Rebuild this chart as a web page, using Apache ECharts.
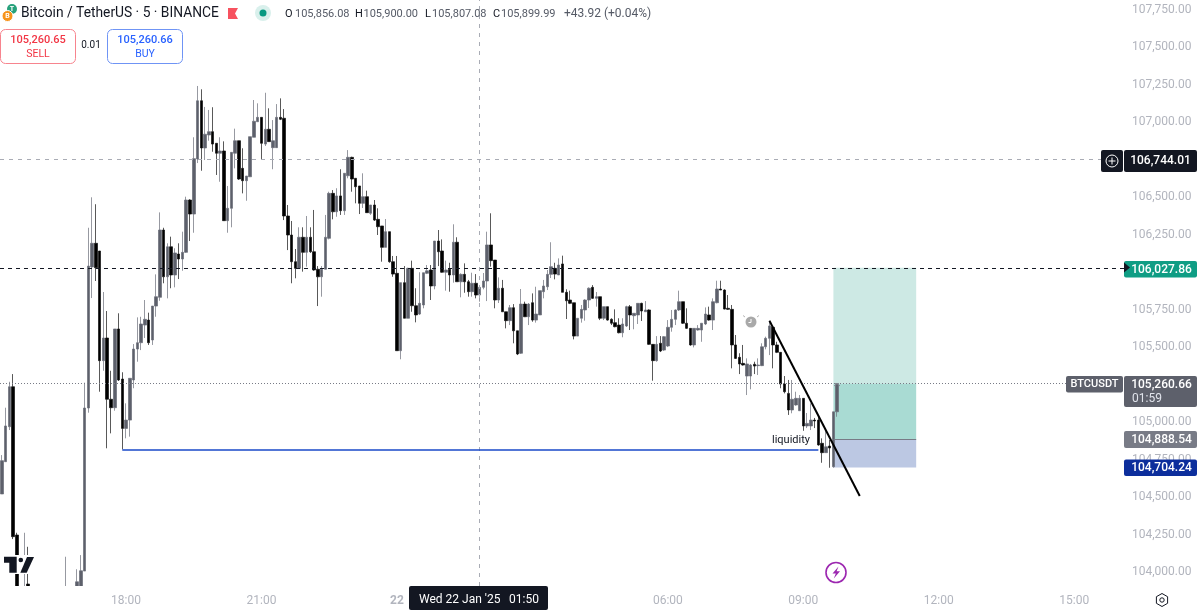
<!DOCTYPE html>
<html>
<head>
<meta charset="utf-8" />
<title>BTCUSDT 5</title>
<style type="text/css">
body{ margin:0; background:#fff; }
#main{ width:1200px; height:612px; }
</style>
</head>
<body>
<div id="main"></div>
<script src="https://cdn.jsdelivr.net/npm/echarts@6/dist/echarts.min.js"></script>
<script type="text/javascript">
// candles, 5 min, first one is Tue 21 Jan 15:15. null = whole candle under the pane
var opens = [
104528,104742,104974,105239,104256,null,103825,103931,null,null,
null,null,null,null,null,null,null,103825,null,null,
103878,103891,104017,105098,106033,106190,106139,105412,105562,105156,
105100,105622,105290,104963,105018,105284,105489,105531,105648,105681,
105549,105774,105832,106278,105968,106167,105980,106119,106086,106130,
106477,106384,106749,107135,106822,106908,106930,106853,106787,106802,
106340,106422,106787,106870,106687,106605,106631,106893,106996,107025,
106848,106946,106824,106824,107025,107019,106371,106245,106068,106024,
106230,106130,106230,106134,106018,105968,106018,106223,106521,106399,
106504,106406,106638,106760,106621,106570,106455,106499,106389,106444,
106349,106305,106163,106267,106068,105991,105478,105929,105693,106024,
105776,105721,105781,105991,106013,105907,106205,106139,105998,106018,
105980,106197,105935,105984,105935,105869,105925,105847,105898,105940,
106179,106079,105814,105892,105736,105677,105763,105610,105461,105787,
105703,105796,105681,105715,105869,105902,105984,106024,105980,106053,
105865,105814,105796,105575,105693,105748,105814,105898,105825,105836,
105693,105770,105686,105664,105648,105597,105642,105770,105710,105715,
105792,105736,105748,105520,105412,105527,105482,105509,105633,105686,
105748,105803,105660,105626,105516,105615,105615,105655,105715,105681,
105796,105887,105880,105759,105752,105516,105434,105394,105310,105310,
105388,105379,105379,105504,105560,105633,105516,105467,105257,105195,
105085,105118,105080,105162,104979,104979,105018,105018,104864,104802,
104846,104709,105073];
var closes = [
104749,104979,105239,104245,103891,null,103891,103878,null,null,
null,null,null,null,null,null,null,103891,null,null,
103946,104019,105098,106039,106190,106028,105412,105562,105156,105100,
105622,105284,104963,105018,105295,105489,105531,105655,105686,105531,
105774,105836,106278,105968,106167,105980,106126,106086,106130,106477,
106384,106751,107135,106822,106913,106930,106848,106787,106802,106340,
106422,106793,106870,106616,106605,106636,106897,106999,107025,106853,
106946,106864,106870,107025,107012,106371,106245,106068,106024,106230,
106130,106230,106134,106013,105968,106018,106230,106521,106399,106504,
106406,106654,106760,106616,106565,106455,106499,106393,106444,106344,
106300,106163,106267,106068,105986,105478,105929,105693,106024,105776,
105715,105792,105995,106008,105907,106205,106134,105998,106013,105980,
106197,105935,105984,105935,105869,105925,105847,105898,105940,106179,
106075,105814,105892,105736,105677,105763,105610,105456,105787,105703,
105787,105681,105721,105876,105907,105984,106035,105986,106046,105865,
105809,105792,105575,105693,105752,105814,105892,105825,105836,105693,
105770,105681,105660,105637,105597,105655,105770,105715,105726,105792,
105741,105748,105520,105412,105520,105476,105571,105633,105686,105748,
105803,105660,105626,105516,105626,105626,105660,105721,105681,105803,
105887,105880,105754,105752,105516,105427,105390,105383,105390,105383,
105376,105383,105504,105560,105642,105516,105467,105257,105206,105085,
105156,105162,105162,104979,104996,105018,105012,104853,104802,104841,
104833,105073,105260.66];
var lows = [
104528,104740,104952,104229,103825,null,103759,103825,null,null,
null,null,null,null,null,null,null,103792,null,null,
103858,103858,104017,105067,105827,105940,105206,105345,104831,104930,
105080,105277,104824,104897,104908,105229,105405,105482,105562,105516,
105516,105703,105809,105925,105825,105892,105898,105953,106008,106126,
106205,106260,106722,106671,106742,106870,106797,106643,106598,106338,
106260,106296,106687,106610,106521,106472,106630,106893,106996,106749,
106835,106864,106681,106822,107007,106344,106145,105925,105958,106024,
106002,106035,106126,106008,105774,105836,106018,106216,106349,106366,
106378,106378,106621,106532,106455,106384,106424,106391,106378,106338,
106245,106068,106163,106061,105968,105478,105421,105693,105693,105736,
105666,105715,105759,105986,105814,105885,106039,105995,105876,105869,
105929,105935,105832,105862,105836,105836,105825,105803,105885,105807,
106035,105759,105794,105736,105626,105648,105527,105449,105456,105701,
105648,105670,105664,105715,105825,105880,105960,105951,105980,105865,
105688,105787,105553,105575,105664,105677,105761,105821,105770,105681,
105681,105677,105648,105633,105593,105567,105635,105615,105620,105655,
105675,105736,105516,105279,105405,105469,105476,105502,105604,105648,
105741,105655,105622,105511,105500,105611,105537,105648,105677,105615,
105792,105880,105752,105748,105361,105423,105323,105379,105184,105222,
105323,105317,105376,105487,105449,105361,105462,105229,105195,105052,
105063,105113,105078,104947,104965,104952,104965,104848,104735,104800,
104702,104702,105040];
var highs = [
104786,105100,105272,105323,104271,null,104271,104178,null,null,
null,null,null,null,null,null,null,104112,null,null,
104029,104123,105266,106293,106495,106449,106139,105867,105741,105345,
105622,105726,105335,105129,105295,105522,105699,105703,105814,105730,
105774,105984,106395,106293,106190,106234,106157,106190,106267,106499,
106482,106893,107233,107211,107094,107074,107092,106853,106893,106866,
106570,106793,106950,106870,106820,106636,106897,107140,107118,107025,
107188,107085,107007,107113,107151,107080,106444,106338,106152,106296,
106296,106371,106296,106411,106039,106039,106378,106532,106543,106555,
106681,106654,106808,106764,106621,106570,106654,106539,106444,106477,
106422,106305,106351,106267,106106,106106,105929,106039,106028,106075,
105892,105998,105995,106046,106046,106205,106278,106216,106075,106061,
106316,106230,105991,106057,105947,105995,105986,105900,105993,106267,
106389,106079,105964,105947,105736,105781,105787,105610,105887,105803,
105794,105858,105902,105876,105947,106013,106197,106061,106090,106108,
105885,105876,105796,105693,105781,105819,105898,105913,105867,105836,
105770,105770,105693,105752,105693,105693,105776,105781,105726,105792,
105796,105807,105752,105522,105575,105575,105575,105681,105748,105752,
105876,105803,105759,105626,105626,105648,105660,105765,105770,105825,
105942,105942,105885,105847,105781,105582,105461,105516,105427,105390,
105405,105427,105527,105571,105677,105642,105537,105469,105310,105284,
105284,105206,105184,105162,105065,105129,105032,105040,104897,104963,
104886,105073,105261];

var slotCount = 299; // candles plus the empty bars to the right
var priceTicks = [104000,104250,104500,104750,105000,105500,105750,106250,106500,107000,107250,107500,107750];
var timeTicks = ['21 18:00','21 21:00','22 00:00','22 06:00','22 09:00','22 12:00','22 15:00'];
var timeLabels = ['18:00','21:00','22','06:00','09:00','12:00','15:00'];

var lastPrice = 105260.66;
var crossPrice = 106744.01;
var targetPrice = 106027.86;
var entryPrice = 104888.54;
var stopPrice = 104704.24;
var liquidityPrice = 104823;

// category names: day + time
var categories = [];
for (var i = 0; i < slotCount; i++) {
    var mins = 15 * 60 + 15 + i * 5;
    var day = 21 + Math.floor(mins / 1440);
    var m = mins % 1440;
    categories.push(day + ' ' + ('0' + Math.floor(m / 60)).slice(-2) + ':' + ('0' + (m % 60)).slice(-2));
}

var candles = [];
for (var k = 0; k < opens.length; k++) {
    if (opens[k] === null) candles.push(['-', '-', '-', '-']);
    else candles.push([opens[k], closes[k], lows[k], highs[k]]);
}

var FONT = 'Roboto';

function fmt(v) {
    return v.toLocaleString('en-US', {minimumFractionDigits: 2, maximumFractionDigits: 2});
}
function txt(x, y, s, color, size, align, weight) {
    return {type: 'text', x: x, y: y, z: 20, style: {text: s, fill: color, fontSize: size, fontFamily: FONT,
        fontWeight: weight || 'normal', align: align || 'left', verticalAlign: 'middle'}};
}
function box(x, y, w, h, fill, r) {
    return {type: 'rect', z: 19, shape: {x: x, y: y, width: w, height: h, r: r === undefined ? 2 : r}, style: {fill: fill}};
}
function dot(x, y, r, fill, stroke, lw) {
    return {type: 'circle', z: 19, shape: {cx: x, cy: y, r: r}, style: {fill: fill, stroke: stroke || null, lineWidth: lw || 1}};
}
function poly(points, fill) {
    return {type: 'polygon', z: 21, shape: {points: points}, style: {fill: fill}};
}
function line(x1, y1, x2, y2, color, lw) {
    return {type: 'line', z: 21, shape: {x1: x1, y1: y1, x2: x2, y2: y2}, style: {stroke: color, lineWidth: lw || 1}};
}

var graphics = [
    // candles run on under the pane, the time strip hides them
    {type: 'rect', z: 5, shape: {x: 0, y: 586, width: 1125, height: 26}, style: {fill: '#fff'}},

    // header
    dot(12, 9, 5, '#26a17b'),
    txt(12, 9, 'T', '#fff', 7, 'center', 'bold'),
    dot(7.5, 16, 5.5, '#f7931a', '#fff', 1),
    txt(7.5, 16, 'B', '#fff', 7, 'center', 'bold'),
    txt(21, 14, 'Bitcoin / TetherUS · 5 · BINANCE', '#131722', 13.8),
    poly([[228, 8], [238, 8], [235, 13.5], [238, 19], [228, 19]], '#f7525f'),
    dot(263, 13, 8, '#d9f0ec'),
    dot(263, 13, 3.5, '#089981'),
    txt(285, 14, 'O', '#131722', 11), txt(295, 14, '105,856.08', '#555a66', 11),
    txt(355, 14, 'H', '#131722', 11), txt(363.5, 14, '105,900.00', '#555a66', 11),
    txt(425, 14, 'L', '#131722', 11), txt(432, 14, '105,807.08', '#555a66', 11),
    txt(493, 14, 'C', '#131722', 11), txt(501, 14, '105,899.99', '#555a66', 11),
    txt(564, 14, '+43.92 (+0.04%)', '#555a66', 12),

    // sell / buy
    {type: 'rect', z: 19, shape: {x: 0.5, y: 29.5, width: 75, height: 34, r: 5}, style: {fill: '#fff', stroke: '#f7848e', lineWidth: 1}},
    txt(38, 40, '105,260.65', '#f23645', 11, 'center', 500),
    txt(38, 54, 'SELL', '#f23645', 10.5, 'center'),
    txt(91, 45, '0.01', '#131722', 10, 'center'),
    {type: 'rect', z: 19, shape: {x: 107.5, y: 29.5, width: 75, height: 34, r: 5}, style: {fill: '#fff', stroke: '#6f94f5', lineWidth: 1}},
    txt(145, 40, '105,260.66', '#2962ff', 11, 'center', 500),
    txt(145, 54, 'BUY', '#2962ff', 10.5, 'center'),

    // tv logo, sits on a white patch over the candles
    box(2, 555, 34, 19, '#fff', 0),
    poly([[4, 556.7], [16.7, 556.7], [16.7, 572.7], [9.3, 572.7], [9.3, 562.7], [4, 562.7]], '#131722'),
    {type: 'circle', z: 21, shape: {cx: 20.8, cy: 560, r: 2.3}, style: {fill: '#131722'}},
    poly([[27, 557], [34, 557], [26.7, 572.7], [20.3, 572.7]], '#131722'),

    // note + icons on the chart
    txt(772, 440, 'liquidity', '#131722', 11),
    dot(751, 322, 5.5, '#a9a9a9'),
    line(751, 319, 751, 322.5, '#fff'),
    line(751, 322.5, 748.5, 322.5, '#fff'),
    line(745, 317, 743, 315.5, '#b5b5b5'),
    line(757, 317, 759, 315.5, '#b5b5b5'),
    {type: 'polyline', z: 21, shape: {points: [[834, 386], [837, 383.5], [840, 386]]}, style: {stroke: '#8a8d96', fill: null, lineWidth: 1}},
    dot(836, 572.5, 10, '#fff', '#9c27b0', 1.6),
    poly([[838.5, 566.5], [832.5, 573.5], [835.8, 573.5], [833.8, 578.5], [840, 571.3], [836.6, 571.3]], '#9c27b0'),

    // price labels on the scale
    box(1101, 150, 22, 22, '#131722'),
    dot(1112, 161, 6, null, '#fff', 1),
    line(1108.5, 161, 1115.5, 161, '#fff'),
    line(1112, 157.5, 1112, 164.5, '#fff'),
    box(1124, 150, 73, 22, '#131722'),
    txt(1160.5, 161, fmt(crossPrice), '#fff', 12, 'center', 500),
    box(1124, 261, 73, 16.5, '#0f9d84'),
    poly([[1124, 262.5], [1130, 267.5], [1124, 272.5]], '#131722'),
    txt(1161.5, 269.5, fmt(targetPrice), '#fff', 12, 'center', 500),
    box(1066, 376, 57, 16.5, '#5d606b'),
    txt(1094.5, 384.5, 'BTCUSDT', '#fff', 11, 'center', 500),
    box(1124, 376, 73, 31, '#5d606b'),
    txt(1161.5, 384.5, fmt(lastPrice), '#fff', 12, 'center', 500),
    txt(1132, 398.5, '01:59', '#e0e3eb', 12),
    box(1124, 431, 73, 17, '#787b86'),
    txt(1161.5, 439.8, fmt(entryPrice), '#fff', 12, 'center', 500),
    box(1124, 459.5, 73, 16.5, '#0c2e9c'),
    txt(1161.5, 468, fmt(stopPrice), '#fff', 12, 'center', 500),

    // crosshair time label
    box(409, 586, 139, 24, '#131722'),
    txt(419, 600, "Wed 22 Jan '25", '#fff', 12),
    txt(509, 600, '01:50', '#fff', 12),

    // settings gear
    {type: 'circle', z: 21, shape: {cx: 1162, cy: 600, r: 2.2}, style: {fill: null, stroke: '#131722', lineWidth: 1}},
    {type: 'polygon', z: 21, shape: {points: [[1162, 593.5], [1167.6, 596.7], [1167.6, 603.3], [1162, 606.5], [1156.4, 603.3], [1156.4, 596.7]]},
        style: {fill: null, stroke: '#131722', lineWidth: 1}}
];

var dom = document.getElementById('main');
var myChart = echarts.init(dom, null, {renderer: 'canvas'});

var option = {
    animation: false,
    backgroundColor: '#fff',
    textStyle: {fontFamily: FONT},
    grid: {left: 0, top: 0, width: 1125, height: 586},
    xAxis: {
        type: 'category',
        data: categories,
        z: 10,
        axisLine: {show: false},
        axisTick: {show: false},
        splitLine: {show: false},
        axisLabel: {
            color: '#b2b5be', fontSize: 12, margin: 9, fontFamily: FONT,
            interval: function (idx, name) { return timeTicks.indexOf(name) >= 0; },
            formatter: function (name) {
                var lab = timeLabels[timeTicks.indexOf(name)];
                return lab === '22' ? '{b|22}' : lab;
            },
            rich: {b: {fontWeight: 'bold', fontSize: 12, color: '#b2b5be', fontFamily: FONT}}
        }
    },
    yAxis: [{
        // the one the candles sit on
        type: 'value',
        position: 'right',
        min: 103918,
        max: 107803,
        axisLine: {show: false},
        axisTick: {show: false},
        splitLine: {show: false},
        axisLabel: {show: false}
    }, {
        // price scale labels
        type: 'value',
        position: 'right',
        min: 103908,
        max: 107815,
        axisLine: {show: false},
        axisTick: {show: false},
        splitLine: {show: false},
        axisLabel: {
            color: '#b2b5be', fontSize: 12, margin: 7, fontFamily: FONT,
            customValues: priceTicks,
            formatter: function (v) { return fmt(v); }
        }
    }],
    series: [{
        type: 'candlestick',
        data: candles,
        yAxisIndex: 0,
        barWidth: 3,
        itemStyle: {color: '#5d606b', color0: '#000', borderColor: '#6a6d78', borderColor0: '#111', borderWidth: 0.7},
        markArea: {
            silent: true,
            data: [
                [{coord: [220.7, targetPrice], itemStyle: {color: '#cde9e4'}}, {coord: [243, lastPrice]}],
                [{coord: [220.7, lastPrice], itemStyle: {color: '#a9dbd3'}}, {coord: [243, entryPrice]}],
                [{coord: [220.7, entryPrice], itemStyle: {color: '#bcc8e3'}}, {coord: [243, stopPrice]}]
            ]
        },
        markLine: {
            silent: true,
            symbol: 'none',
            label: {show: false},
            data: [
                {yAxis: crossPrice, lineStyle: {color: '#a9acb5', type: [4, 5], width: 1}},
                {yAxis: targetPrice, lineStyle: {color: '#131722', type: [4, 4], width: 1}},
                {yAxis: lastPrice, lineStyle: {color: '#787b86', type: [1, 2], width: 1}},
                {xAxis: categories[127], lineStyle: {color: '#a9acb5', type: [4, 5], width: 1}},
                [{coord: [32, liquidityPrice], lineStyle: {color: '#1848c8', type: 'solid', width: 1.5}}, {coord: [217, liquidityPrice]}],
                [{coord: [220.7, entryPrice], lineStyle: {color: '#787b86', type: 'solid', width: 1}}, {coord: [243, entryPrice]}],
                [{coord: [204, 105677], lineStyle: {color: '#000', type: 'solid', width: 2}}, {coord: [228, 104515]}]
            ]
        }
    }],
    graphic: {elements: graphics}
};

myChart.setOption(option, true);
</script>
</body>
</html>
